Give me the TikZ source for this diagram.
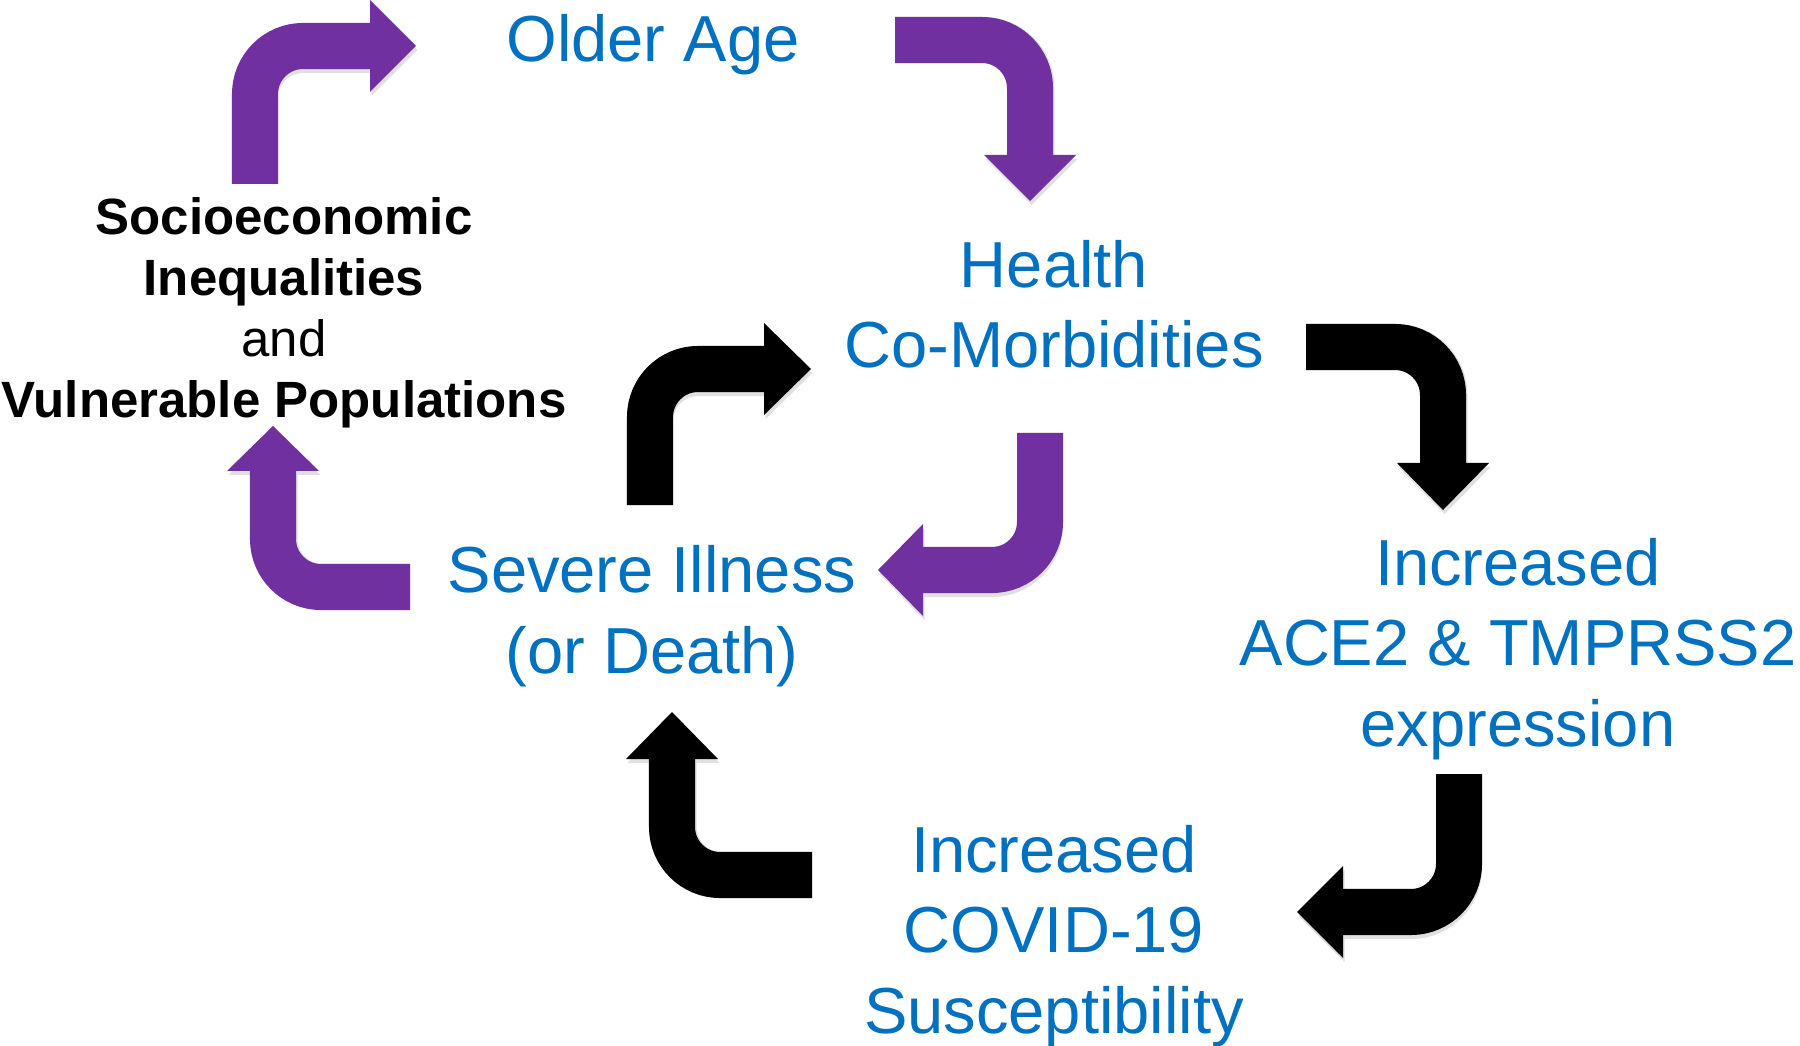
\documentclass[tikz,border=0pt]{standalone}
\usepackage{fontspec}
\setmainfont{Liberation Sans}
\definecolor{txtblue}{HTML}{0070C0}
\definecolor{arrpurple}{HTML}{7030A0}
\definecolor{shadowc}{gray}{0.88}
\newcommand\arrowset[2]{%
  % #1 purple colour, #2 black colour
  % A1 up then right (to Older Age)
  \draw[shaft, draw=#1] (a1s) |- (372,46);
  \fill[#1] (370,0) -- (416,46) -- (370,92) -- cycle;
  % A2 right then down (to Health)
  \draw[shaft, draw=#1] (a2s) -| (1030,157);
  \fill[#1] (984,155) -- (1076,155) -- (1030,201) -- cycle;
  % A3 right then down (to Increased ACE2)
  \draw[shaft, draw=#2] (a3s) -| (1443,465);
  \fill[#2] (1397,463) -- (1489,463) -- (1443,510) -- cycle;
  % A4 up then right (Severe -> Health)
  \draw[shaft, draw=#2] (a4s) |- (766,369);
  \fill[#2] (764,323) -- (811,369) -- (764,415) -- cycle;
  % A5 down then left (Health -> Severe)
  \draw[shaft, draw=#1] (a5s) |- (921,570);
  \fill[#1] (923,524) -- (878,570) -- (923,616) -- cycle;
  % A6 left then up (Severe -> Socioeconomic)
  \draw[shaft, draw=#1] (a6s) -| (273,469);
  \fill[#1] (227,471) -- (273,426) -- (319,471) -- cycle;
  % A7 down then left (ACE2 -> COVID)
  \draw[shaft, draw=#2] (a7s) |- (1341,912);
  \fill[#2] (1343,866) -- (1297,912) -- (1343,958) -- cycle;
  % A8 left then up (COVID -> Severe)
  \draw[shaft, draw=#2] (a8s) -| (672,757);
  \fill[#2] (626,759) -- (672,712) -- (718,759) -- cycle;
}
\begin{document}
\begin{tikzpicture}[x=0.01cm, y=-0.01cm,
  shaft/.style={line width=0.46cm, rounded corners=0.48cm, line cap=butt},
  bluetxt/.style={text=txtblue, font=\fontsize{18.5}{22.8}\selectfont, align=center, inner sep=0pt, anchor=base},
  blktxt/.style={text=black, font=\fontsize{14.5}{17.4}\selectfont, align=center, inner sep=0pt, anchor=base}]
\useasboundingbox[fill=white] (0,0) rectangle (1800,1046);

% arrow start points
\coordinate (a1s) at (255,184);
\coordinate (a2s) at (895,40);
\coordinate (a3s) at (1306,347);
\coordinate (a4s) at (650,505);
\coordinate (a5s) at (1040,433);
\coordinate (a6s) at (410,587);
\coordinate (a7s) at (1459,774);
\coordinate (a8s) at (812,875);

% soft shadows
\begin{scope}[shift={(1.5,4)}]
  \arrowset{shadowc}{shadowc}
\end{scope}
% arrows
\arrowset{arrpurple}{black}

% texts (anchor = baseline of the last line)
\node[bluetxt] (older) at (653,62) {Older Age};
\node[bluetxt] (health) at (1054,368) {Health\\Co-Morbidities};
\node[bluetxt] (severe) at (652,673) {Severe Illness\\(or Death)};
\node[bluetxt] (ace) at (1518,746) {Increased\\ACE2 \& TMPRSS2\\expression};
\node[bluetxt] (covid) at (1054,1033) {Increased\\COVID-19\\Susceptibility};
\node[blktxt] (socio) at (284,418) {\textbf{Socioeconomic}\\\textbf{Inequalities}\\and\hspace*{4.5pt}\\\textbf{Vulnerable Populations}};
\end{tikzpicture}
\end{document}
